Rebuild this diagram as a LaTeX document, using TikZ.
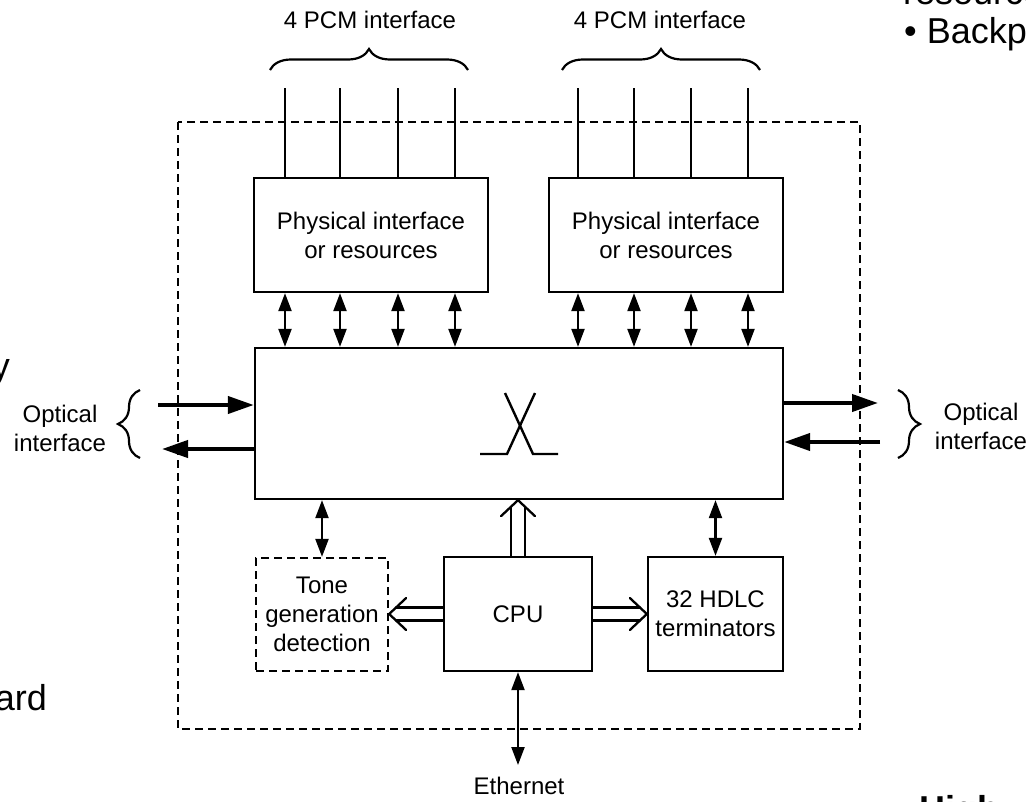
\documentclass[tikz,border=0pt]{standalone}
\usepackage{fontspec}
\setmainfont{Liberation Sans}
\usetikzlibrary{arrows.meta,decorations.pathreplacing,calc}
\newcommand\lblfont{\fontsize{24}{29}\selectfont}
\newcommand\bigfont{\fontsize{36}{43}\selectfont}
\begin{document}
\begin{tikzpicture}[x=1pt,y=-1pt,
  box/.style={draw, line width=2.3pt, inner sep=0pt, align=center, font=\lblfont},
  dbox/.style={box, dash pattern=on 8pt off 5pt},
  outerdash/.style={draw, line width=2.5pt, dash pattern=on 8pt off 5pt},
  lbl/.style={font=\lblfont, align=center, inner sep=0pt},
  edge/.style={font=\bigfont, inner sep=0pt},
  pcm/.style={line width=2.2pt},
  darr/.style={line width=2.2pt, {Triangle[length=18pt,width=13pt]}-{Triangle[length=18pt,width=13pt]}},
  optarr/.style={line width=4pt, -{Triangle[length=26pt,width=17pt]}},
  hol/.style={line width=2.3pt, line join=round, line cap=round},
  brc/.style={line width=2.2pt, decorate},
]
\useasboundingbox (0,0) rectangle (1026,801);
\clip (0,0) rectangle (1026,801);

% outer dashed frame
\draw[outerdash] (178,122) rectangle (860,729);

% boxes
\node[box, minimum width=234pt, minimum height=114pt] (p1) at (371,235) {Physical interface\\or resources};
\node[box, minimum width=234pt, minimum height=114pt] (p2) at (666,235) {Physical interface\\or resources};
\node[box, minimum width=528pt, minimum height=151pt] (sw) at (519,423.5) {};
\node[dbox, minimum width=132pt, minimum height=113pt] (tone) at (322,614.5) {Tone\\generation\\detection};
\node[box, minimum width=148pt, minimum height=114pt] (cpu) at (518,614) {CPU};
\node[box, minimum width=135pt, minimum height=114pt] (hdlc) at (715.5,614) {32 HDLC\\terminators};

% switch symbol
\draw[line width=2.4pt] (480,454) -- (507,454) -- (535,393);
\draw[line width=2.4pt] (505,393) -- (533,454) -- (558,454);

% PCM lines and arrows
\foreach \i/\x in {1/285,2/340,3/398,4/455}{
  \coordinate (t\i) at (\x,88);
  \draw[pcm] (t\i) -- (t\i |- p1.north);
  \draw[darr] (t\i |- p1.south) -- (t\i |- sw.north);
}
\foreach \i/\x in {5/578,6/634,7/691,8/748}{
  \coordinate (t\i) at (\x,88);
  \draw[pcm] (t\i) -- (t\i |- p2.north);
  \draw[darr] (t\i |- p2.south) -- (t\i |- sw.north);
}

% braces and PCM labels
\draw[brc, decoration={brace, amplitude=21pt}] (270,70) -- (468,70);
\draw[brc, decoration={brace, amplitude=21pt}] (562,70) -- (760,70);
\node[lbl, anchor=base] (pcm1) at (370,28) {4 PCM interface};
\node[lbl, anchor=base] (pcm2) at (660,28) {4 PCM interface};

% optical interfaces
\coordinate (oL1) at (158,405);
\coordinate (oL2) at (162,449);
\coordinate (oR1) at (878,403);
\coordinate (oR2) at (880,442);
\draw[optarr] (oL1) -- (oL1 -| sw.west);
\draw[optarr] (oL2 -| sw.west) -- (oL2);
\draw[optarr] (oR1 -| sw.east) -- (oR1);
\draw[optarr] (oR2) -- (oR2 -| sw.east);
\draw[brc, decoration={brace, amplitude=22pt}] (140,458) -- (140,390);
\draw[brc, decoration={brace, amplitude=22pt}] (898,390) -- (898,458);
\node[lbl] (optL) at (60,428) {Optical\\interface};
\node[lbl] (optR) at (981,426) {Optical\\interface};

% switch to tone / hdlc
\draw[darr] (tone.north |- sw.south) -- (tone.north);
\draw[darr] (hdlc.north |- sw.south) -- (hdlc.north);

% CPU hollow arrows
\coordinate (tu) at (cpu.north |- sw.south);
\draw[hol] ([xshift=-7pt]cpu.north) -- ($(tu)+(-7,7)$);
\draw[hol] ([xshift=7pt]cpu.north) -- ($(tu)+(7,7)$);
\draw[hol] ($(tu)+(-17,16)$) -- (tu) -- ($(tu)+(17,16)$);

\coordinate (tl) at (cpu.west -| tone.east);
\draw[hol] ($(cpu.west)+(0,-6.5)$) -- ($(tl)+(7,-6.5)$);
\draw[hol] ($(cpu.west)+(0,6.5)$) -- ($(tl)+(7,6.5)$);
\draw[hol] ($(tl)+(17,-16)$) -- (tl) -- ($(tl)+(17,16)$);

\coordinate (tr) at (cpu.east -| hdlc.west);
\draw[hol] ($(cpu.east)+(0,-6.5)$) -- ($(tr)+(-7,-6.5)$);
\draw[hol] ($(cpu.east)+(0,6.5)$) -- ($(tr)+(-7,6.5)$);
\draw[hol] ($(tr)+(-17,-16)$) -- (tr) -- ($(tr)+(-17,16)$);

% Ethernet
\coordinate (eth) at (518,765);
\draw[darr] (cpu.south) -- (eth);
\node[lbl, anchor=base] (ethl) at (519,794) {Ethernet};

% slide fragments at the edges
\node[edge, anchor=base west] (fr1) at (903,4) {resources};
\node[edge, anchor=base west] (fr2) at (904,43) {• Backp};
\node[edge, anchor=base east] (fr3) at (47,710) {ard};
\node[edge, anchor=base east] (fr4) at (10,378) {y};
\node[edge, anchor=base west, font=\bigfont\bfseries] (fr5) at (919,821) {High};
\end{tikzpicture}
\end{document}
